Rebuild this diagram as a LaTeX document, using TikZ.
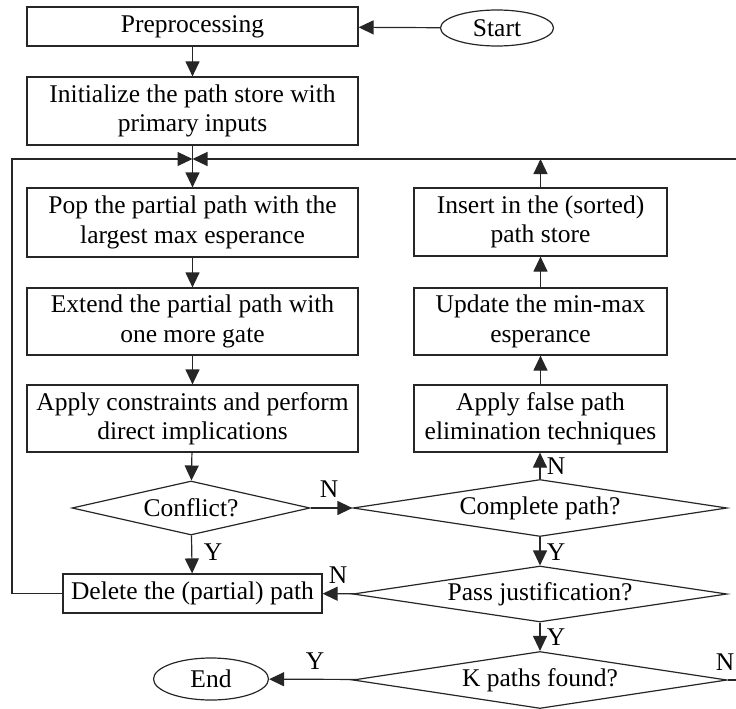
\documentclass[tikz,border=0pt]{standalone}
\usepackage{fontspec}
\setmainfont{Liberation Serif}
\usetikzlibrary{shapes.geometric,arrows.meta}
\begin{document}
\begin{tikzpicture}[x=1pt,y=-1pt,
  every node/.style={font=\fontsize{25.5}{29.5}\selectfont},
  wire/.style={draw=black!85, line width=1.2pt},
  arr/.style={wire, -{Triangle[length=15pt,width=14pt]}},
  lbox/.style={wire, rectangle, align=center, inner sep=0pt, minimum width=331pt},
  rbox/.style={wire, rectangle, align=center, inner sep=0pt, minimum width=253pt},
  decision/.style={wire, diamond, inner sep=0pt},
  terminal/.style={wire, ellipse, inner sep=0pt},
  tag/.style={inner sep=0pt}]
\useasboundingbox (0,0) rectangle (736,709);

% left column
\node[lbox, minimum height=39pt] (prep) at (192.5,26.5) {Preprocessing};
\node[terminal, minimum width=113pt, minimum height=36pt] (start) at (497,28) {Start};
\node[lbox, minimum height=68pt] (init) at (192.5,111) {Initialize the path store with\\primary inputs};
\node[lbox, minimum height=69pt] (pop) at (192.5,222.5) {Pop the partial path with the\\largest max esperance};
\node[lbox, minimum height=67pt] (ext) at (192.5,321.5) {Extend the partial path with\\one more gate};
\node[lbox, minimum height=67pt] (cons) at (192.5,418.5) {Apply constraints and perform\\direct implications};
\node[decision, minimum width=238pt, minimum height=54pt] (conf) at (191,508) {};
\node at (conf.center) {Conflict?};
\node[wire, rectangle, inner sep=0pt, minimum width=259pt, minimum height=39pt] (del) at (192.5,593.5) {Delete the (partial) path};
\node[terminal, minimum width=115pt, minimum height=42pt] (end) at (211,679) {End};

% right column
\node[rbox, minimum height=68pt] (ins) at (540.5,222) {Insert in the (sorted)\\path store};
\node[rbox, minimum height=67pt] (upd) at (540.5,321.5) {Update the min-max\\esperance};
\node[rbox, minimum height=67pt] (fpe) at (540.5,418.5) {Apply false path\\elimination techniques};
\node[decision, minimum width=374pt, minimum height=57pt] (comp) at (540,508) {};
\node at (comp.center) {Complete path?};
\node[decision, minimum width=374pt, minimum height=56pt] (pass) at (540,594) {};
\node at (pass.center) {Pass justification?};
\node[decision, minimum width=374pt, minimum height=57pt] (kp) at (540,680) {};
\node at (kp.center) {K paths found?};

% junction of the two loop-back lines
\coordinate (J) at (192.5,159);
\coordinate (L) at (12,159);
\coordinate (R1) at (760,680);
\coordinate (R2) at (760,159);

% connectors
\draw[arr] (start) -- (prep);
\draw[arr] (prep) -- (init);
\draw[arr] (init) -- (pop);
\draw[arr] (pop) -- (ext);
\draw[arr] (ext) -- (cons);
\draw[arr] (cons) -- (conf);
\draw[arr] (conf) -- (del);
\draw[arr] (conf) -- (comp);
\draw[arr] (comp.north) -- (comp.north |- fpe.south);
\draw[arr] (fpe) -- (upd);
\draw[arr] (upd) -- (ins);
\draw[arr] (ins.north) -- (ins.north |- J);
\draw[arr] (comp) -- (pass);
\draw[arr] (pass) -- (del);
\draw[arr] (pass) -- (kp);
\draw[arr] (kp) -- (end);
\draw[arr] (del.west) -| (L) -- (J);
\draw[arr] (kp.east) -- (R1) -- (R2) -- (J);

% branch labels
\node[tag] at (329,489) {N};
\node[tag] at (556,466) {N};
\node[tag] at (213,552) {Y};
\node[tag] at (556,552) {Y};
\node[tag] at (338,575) {N};
\node[tag] at (556,637) {Y};
\node[tag] at (315,661) {Y};
\node[tag] at (725,662) {N};
\end{tikzpicture}
\end{document}
